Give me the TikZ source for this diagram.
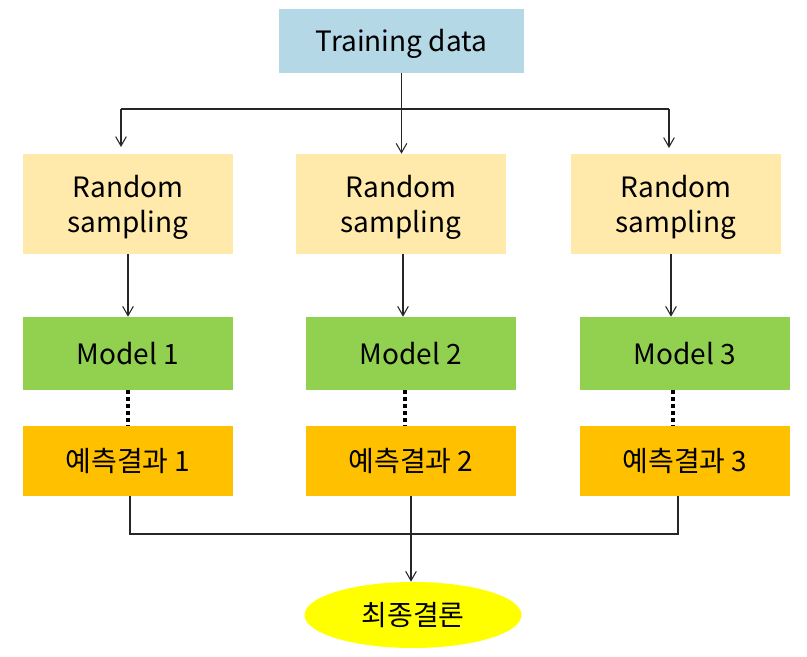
\documentclass[tikz,border=0pt]{standalone}
\usepackage{fontspec}
\setmainfont{Noto Sans CJK KR}
\usepackage{xcolor}
\definecolor{tdblue}{RGB}{180,216,230}
\definecolor{rsyel}{RGB}{255,234,172}
\definecolor{mdgrn}{RGB}{146,208,80}
\definecolor{rsorg}{RGB}{255,192,0}
\definecolor{fnyel}{RGB}{255,255,0}
\usetikzlibrary{arrows.meta,shapes.geometric}
\newcommand{\lowtxt}[1]{\raisebox{-2.5pt}[\height][\depth]{#1}}
\tikzset{
  box/.style={rectangle,inner sep=0pt,font=\fontsize{21}{26}\selectfont,align=center},
  ln/.style={line width=0.8pt,black!85},
  arr/.style={ln,-{Straight Barb[length=7pt,width=8pt,line width=0.8pt]}},
  dots/.style={line width=3pt,dash pattern=on 3pt off 2.2pt}
}

\begin{document}
\begin{tikzpicture}[x=0.75pt,y=-0.75pt]
\useasboundingbox (0,0) rectangle (807,657);
\node[box,fill=tdblue,minimum width=245*0.75pt,minimum height=64*0.75pt] (train) at (401.5,41) {\lowtxt{Training data}};
\node[box,fill=rsyel,minimum width=210*0.75pt,minimum height=100*0.75pt] (rs1) at (128,204) {\lowtxt{Random}\\\lowtxt{sampling}};
\node[box,fill=rsyel,minimum width=210*0.75pt,minimum height=100*0.75pt] (rs2) at (401,204) {\lowtxt{Random}\\\lowtxt{sampling}};
\node[box,fill=rsyel,minimum width=210*0.75pt,minimum height=100*0.75pt] (rs3) at (676,204) {\lowtxt{Random}\\\lowtxt{sampling}};
\node[box,fill=mdgrn,minimum width=210*0.75pt,minimum height=73*0.75pt] (mod1) at (128,353.5) {Model 1};
\node[box,fill=mdgrn,minimum width=210*0.75pt,minimum height=73*0.75pt] (mod2) at (411,353.5) {Model 2};
\node[box,fill=mdgrn,minimum width=210*0.75pt,minimum height=73*0.75pt] (mod3) at (685,353.5) {Model 3};
\node[box,fill=rsorg,minimum width=210*0.75pt,minimum height=70*0.75pt] (res1) at (128,461) {예측결과 1};
\node[box,fill=rsorg,minimum width=210*0.75pt,minimum height=70*0.75pt] (res2) at (411,461) {예측결과 2};
\node[box,fill=rsorg,minimum width=210*0.75pt,minimum height=70*0.75pt] (res3) at (685,461) {예측결과 3};
\node[box,ellipse,fill=fnyel,minimum width=217*0.75pt,minimum height=66*0.75pt] (fin) at (413,615) {최종결론};
\coordinate (br1) at (121,109);
\coordinate (br3) at (669,109);
\coordinate (tip1) at (121,147);
\coordinate (tip3) at (669,148);
\coordinate (jn1) at (130,534);
\coordinate (jn3) at (678,534);
\draw[arr] (train.south) -- (train.south |- rs2.north);
\draw[ln] (br1) -- (br3);
\draw[arr] (br1) -- (tip1);
\draw[arr] (br3) -- (tip3);
\draw[arr] (rs1.south) -- (rs1.south |- mod1.north);
\draw[arr] ([xshift=2*0.75pt]rs2.south) -- ([xshift=2*0.75pt]rs2.south |- mod2.north);
\draw[arr] ([xshift=-5*0.75pt]rs3.south) -- ([xshift=-5*0.75pt]rs3.south |- mod3.north);
\draw[dots] (mod1.south) -- (res1.north);
\draw[dots] ([xshift=-6*0.75pt]mod2.south) -- ([xshift=-6*0.75pt]res2.north);
\draw[dots] ([xshift=-12*0.75pt]mod3.south) -- ([xshift=-12*0.75pt]res3.north);
\draw[ln] ([xshift=2*0.75pt]res1.south) -- (jn1) -- (jn3) -- ([xshift=-7*0.75pt]res3.south);
\draw[arr] (res2.south) -- (res2.south |- fin.north);
\end{tikzpicture}
\end{document}
